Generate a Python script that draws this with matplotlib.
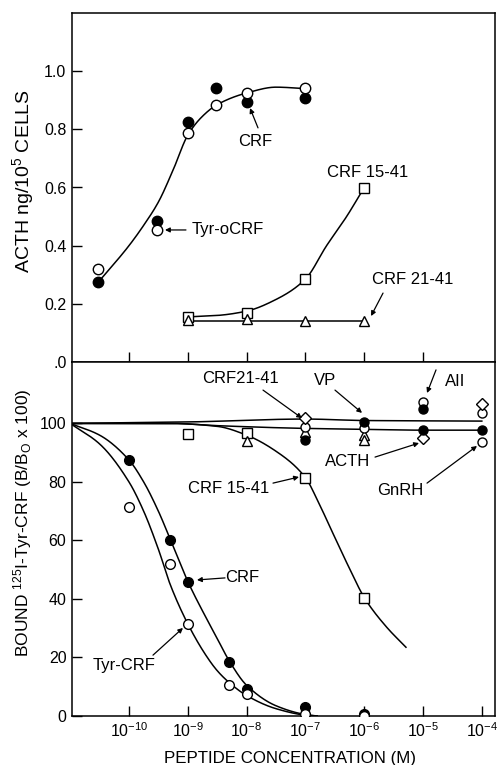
import numpy as np
import matplotlib
matplotlib.use("Agg")
import matplotlib.pyplot as plt
from matplotlib.ticker import NullLocator, FixedFormatter, LogFormatterSciNotation

plt.rcParams.update({
    "font.family": ["Liberation Sans", "DejaVu Sans"],
    "mathtext.fontset": "custom",
    "mathtext.rm": "Liberation Sans",
    "mathtext.it": "Liberation Sans:italic",
    "mathtext.bf": "Liberation Sans:bold",
    "axes.unicode_minus": False,
})

# ---------------- data: top panel (ACTH release) ----------------
top_conc = [3e-11, 3e-10, 1e-9, 3e-9, 1e-8, 1e-7]
top_crf_filled = [0.276, 0.486, 0.824, 0.941, 0.893, 0.907]
top_tyr_open = [0.320, 0.455, 0.786, 0.883, 0.924, 0.941]

top_frag_conc = [1e-9, 1e-8, 1e-7, 1e-6]
top_crf15_41 = [0.155, 0.170, 0.286, 0.597]
top_crf21_41 = [0.145, 0.148, 0.141, 0.141]

# fitted curves (knots, log10 concentration)
top_crf_curve_logx = [-10.52, -10.0, -9.75, -9.5, -9.25, -9.0, -8.75, -8.5, -8.0, -7.5, -7.0]
top_crf_curve_y = [0.275, 0.40, 0.47, 0.55, 0.66, 0.78, 0.845, 0.885, 0.925, 0.945, 0.94]
top_15_curve_logx = [-9.0, -8.5, -8.0, -7.5, -7.0, -6.64, -6.3, -6.0]
top_15_curve_y = [0.155, 0.160, 0.175, 0.215, 0.285, 0.40, 0.50, 0.60]
top_21_curve_logx = [-9.0, -6.0]
top_21_curve_y = [0.14, 0.14]

# ---------------- data: bottom panel (binding) ----------------
bot_conc = [1e-10, 5e-10, 1e-9, 5e-9, 1e-8, 1e-7, 1e-6]
bot_crf_filled = [87.5, 60.0, 45.8, 18.3, 9.2, 3.0, 0.7]
bot_tyr_open = [71.5, 51.9, 31.5, 10.5, 7.5, 0.7, 0.0]

bot_15_conc = [1e-9, 1e-8, 1e-7, 1e-6]
bot_crf15_41 = [96.4, 96.6, 81.3, 40.5]

other_filled_conc = [1e-7, 1e-6, 1e-5, 1e-5, 1e-4]
other_filled = [94.2, 100.5, 105.1, 97.6, 97.6]
other_open_conc = [1e-7, 1e-6, 1e-5, 1e-4, 1e-4]
other_open = [98.8, 98.3, 107.2, 103.4, 93.5]
other_diamond_conc = [1e-7, 1e-5, 1e-4]
other_diamond = [101.9, 94.9, 106.8]
other_tri_conc = [1e-8, 1e-7, 1e-6, 1e-6]
other_tri = [93.9, 97.0, 95.9, 94.2]

bot_crf_curve_logx = [-11.0, -10.5, -10.0, -9.75, -9.5, -9.3, -9.0, -8.7, -8.5, -8.3, -8.0, -7.5, -7.0, -6.8]
bot_crf_curve_y = [100, 96, 87.5, 80, 70, 60.5, 46, 34, 26.5, 19, 10.5, 3.5, 0.5, 0]
bot_tyr_curve_logx = [-11.0, -10.5, -10.0, -9.75, -9.5, -9.3, -9.0, -8.7, -8.5, -8.3, -8.0, -7.5, -7.0, -6.8]
bot_tyr_curve_y = [100, 93, 80, 70, 57, 45, 31.5, 21, 15.5, 11.5, 7, 2.5, 0.3, 0]
bot_15_curve_logx = [-11.0, -9.3, -8.5, -8.0, -7.5, -7.0, -6.8, -6.58, -6.24, -6.0, -5.62, -5.29]
bot_15_curve_y = [100, 100, 99, 96, 90.5, 81.5, 74, 64.5, 50, 40.5, 30.4, 23.5]
upper_line_logx = [-11.0, -9.0, -7.0, -6.0, -4.0]
upper_line_y = [100, 100.5, 101.5, 101.0, 100.8]
lower_line_logx = [-11.0, -9.3, -8.45, -7.0, -6.0, -5.0, -4.0]
lower_line_y = [100, 100, 99.2, 98.3, 98.0, 97.7, 97.7]

top_yticks = [0, 0.2, 0.4, 0.6, 0.8, 1.0]
top_yticklabels = [".0", "0.2", "0.4", "0.6", "0.8", "1.0"]
bot_yticks = [0, 20, 40, 60, 80, 100]
top_xticks = [1e-10, 1e-9, 1e-8, 1e-7, 1e-6, 1e-5]
bot_xticks = [1e-10, 1e-9, 1e-8, 1e-7, 1e-6, 1e-5, 1e-4]


def pchip(xk, yk, n=300):
    xk = np.asarray(xk, float)
    yk = np.asarray(yk, float)
    h = np.diff(xk)
    d = np.diff(yk) / h
    m = np.zeros_like(xk)
    m[0], m[-1] = d[0], d[-1]
    for k in range(1, len(xk) - 1):
        if d[k - 1] * d[k] <= 0:
            m[k] = 0.0
        else:
            w1 = 2 * h[k] + h[k - 1]
            w2 = h[k] + 2 * h[k - 1]
            m[k] = (w1 + w2) / (w1 / d[k - 1] + w2 / d[k])
    xs = np.linspace(xk[0], xk[-1], n)
    idx = np.clip(np.searchsorted(xk, xs) - 1, 0, len(h) - 1)
    t = (xs - xk[idx]) / h[idx]
    h00 = 2 * t**3 - 3 * t**2 + 1
    h10 = t**3 - 2 * t**2 + t
    h01 = -2 * t**3 + 3 * t**2
    h11 = t**3 - t**2
    ys = h00 * yk[idx] + h10 * h[idx] * m[idx] + h01 * yk[idx + 1] + h11 * h[idx] * m[idx + 1]
    return 10 ** xs, ys


W, H = 499, 765
fig = plt.figure(figsize=(W / 100, H / 100), dpi=100)
ax1 = fig.add_axes([72 / W, 1 - 362 / H, 423 / W, 349 / H])
ax2 = fig.add_axes([72 / W, 1 - 716 / H, 423 / W, 354 / H])

LW = 1.1
for ax in (ax1, ax2):
    ax.set_xscale("log")
    ax.set_xlim(10 ** -10.969, 10 ** -3.776)
    ax.xaxis.set_minor_locator(NullLocator())
    ax.yaxis.set_minor_locator(NullLocator())
    for s in ax.spines.values():
        s.set_linewidth(1.1)
    ax.tick_params(direction="in", length=7, width=1.0, labelsize=11.5, pad=4)

# ---- top panel ----
ax1.set_ylim(0, 1.2)
ax1.set_yticks(top_yticks)
ax1.yaxis.set_major_formatter(FixedFormatter(top_yticklabels))
ax1.set_xticks(top_xticks)
ax1.xaxis.set_minor_locator(NullLocator())
ax1.tick_params(axis="x", labelbottom=False)

cx, cy = pchip(top_crf_curve_logx, top_crf_curve_y)
ax1.plot(cx, cy, color="black", lw=LW, zorder=2)
cx, cy = pchip(top_15_curve_logx, top_15_curve_y)
ax1.plot(cx, cy, color="black", lw=LW, zorder=2)
ax1.plot(10 ** np.array(top_21_curve_logx), top_21_curve_y, color="black", lw=LW, zorder=2)

ax1.plot(top_conc, top_crf_filled, "o", ms=7.5, mfc="black", mec="black", zorder=3)
ax1.plot(top_conc, top_tyr_open, "o", ms=7.5, mfc="white", mec="black", mew=1.0, zorder=3)
ax1.plot(top_frag_conc, top_crf15_41, "s", ms=7, mfc="white", mec="black", mew=1.0, zorder=3)
ax1.plot(top_frag_conc, top_crf21_41, "^", ms=7.5, mfc="white", mec="black", mew=1.0, zorder=4)

FS = 12
arrow = dict(arrowstyle="-|>", lw=0.9, color="black", mutation_scale=7, shrinkA=0, shrinkB=0)


def arr(ax, tail, head):
    ax.annotate("", xy=(10 ** head[0], head[1]), xytext=(10 ** tail[0], tail[1]),
                arrowprops=arrow, zorder=5)


def txt(ax, pos, s, ha="center"):
    ax.text(10 ** pos[0], pos[1], s, ha=ha, va="center", fontsize=FS, zorder=5)


txt(ax1, (-7.857, 0.757), "CRF")
arr(ax1, (-7.806, 0.805), (-7.942, 0.873))
txt(ax1, (-8.929, 0.454), "Tyr-oCRF", ha="left")
arr(ax1, (-9.031, 0.454), (-9.388, 0.454))
txt(ax1, (-5.935, 0.650), "CRF 15-41")
txt(ax1, (-5.170, 0.282), "CRF 21-41")
arr(ax1, (-5.680, 0.237), (-5.884, 0.158))

# ---- bottom panel ----
ax2.set_ylim(0, 121)
ax2.set_yticks(bot_yticks)
ax2.set_xticks(bot_xticks)
ax2.xaxis.set_minor_locator(NullLocator())
ax2.xaxis.set_major_formatter(LogFormatterSciNotation())

for lx, ly in [(upper_line_logx, upper_line_y), (lower_line_logx, lower_line_y),
               (bot_crf_curve_logx, bot_crf_curve_y), (bot_tyr_curve_logx, bot_tyr_curve_y),
               (bot_15_curve_logx, bot_15_curve_y)]:
    cx, cy = pchip(lx, ly)
    ax2.plot(cx, cy, color="black", lw=LW, zorder=2)

ax2.plot(bot_conc, bot_crf_filled, "o", ms=7, mfc="black", mec="black", zorder=3)
ax2.plot(bot_conc, bot_tyr_open, "o", ms=7, mfc="white", mec="black", mew=1.0, zorder=3)
ax2.plot(bot_15_conc, bot_crf15_41, "s", ms=6.5, mfc="white", mec="black", mew=1.0, zorder=3)
ax2.plot(other_tri_conc, other_tri, "^", ms=6.5, mfc="white", mec="black", mew=1.0, zorder=3)
ax2.plot(other_open_conc, other_open, "o", ms=6.5, mfc="white", mec="black", mew=1.0, zorder=4)
ax2.plot(other_diamond_conc, other_diamond, "D", ms=6, mfc="white", mec="black", mew=1.0, zorder=4)
ax2.plot(other_filled_conc, other_filled, "o", ms=6.5, mfc="black", mec="black", zorder=5)

txt(ax2, (-8.112, 115.2), "CRF21-41")
arr(ax2, (-7.721, 111.4), (-7.058, 101.8))
txt(ax2, (-6.667, 114.8), "VP")
arr(ax2, (-6.497, 111.4), (-6.037, 103.6))
txt(ax2, (-4.456, 114.5), "AII")
arr(ax2, (-4.779, 118.3), (-4.932, 110.4))
txt(ax2, (-6.276, 87.1), "ACTH")
arr(ax2, (-5.816, 88.5), (-5.068, 93.3))
txt(ax2, (-5.391, 77.2), "GnRH")
arr(ax2, (-4.932, 79.6), (-4.082, 92.3))
txt(ax2, (-8.299, 77.9), "CRF 15-41")
arr(ax2, (-7.551, 79.6), (-7.109, 81.7))
txt(ax2, (-8.078, 47.2), "CRF")
arr(ax2, (-8.367, 47.2), (-8.844, 46.5))
txt(ax2, (-10.085, 17.4), "Tyr-CRF")
arr(ax2, (-9.592, 20.8), (-9.082, 30.1))

# axis labels
fig.text(23.5 / W, 1 - 181 / H, "ACTH ng/10$^5$ CELLS", rotation=90, ha="center", va="center", fontsize=14)
fig.text(22.5 / W, 1 - 523 / H, "BOUND $^{125}$I-Tyr-CRF (B/B$_\\mathrm{O}$ x 100)", rotation=90,
         ha="center", va="center", fontsize=12.5)
fig.text(290 / W, 1 - 758 / H, "PEPTIDE CONCENTRATION (M)", ha="center", va="center", fontsize=12.2)

fig.savefig("out.png", dpi=100, facecolor="white")
